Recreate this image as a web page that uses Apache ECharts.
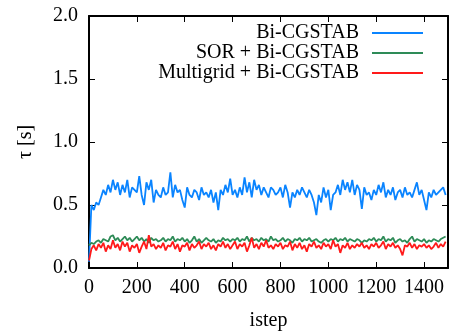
<!DOCTYPE html>
<html>
<head>
<meta charset="utf-8">
<script src="https://cdn.jsdelivr.net/npm/echarts@6/dist/echarts.min.js"></script>
<style>html,body{margin:0;padding:0;background:#fff;}#c{width:451px;height:336px;}</style>
</head>
<body>
<div id="c"></div>
<script>
const STEP = 10;
const seriesNames = ['Bi-CGSTAB', 'SOR + Bi-CGSTAB', 'Multigrid + Bi-CGSTAB'];
const xTicks = [0, 200, 400, 600, 800, 1000, 1200, 1400];
const yTicks = [0.0, 0.5, 1.0, 1.5, 2.0];

const biCgstab = [
  0.05, 0.50, 0.46, 0.52, 0.50, 0.56, 0.62, 0.58, 0.66, 0.60,
  0.70, 0.62, 0.68, 0.58, 0.66, 0.60, 0.70, 0.56, 0.64, 0.62,
  0.60, 0.73, 0.58, 0.50, 0.68, 0.62, 0.70, 0.52, 0.62, 0.58,
  0.56, 0.64, 0.58, 0.60, 0.76, 0.56, 0.66, 0.60, 0.62, 0.54,
  0.48, 0.64, 0.58, 0.56, 0.62, 0.60, 0.54, 0.64, 0.58, 0.60,
  0.56, 0.62, 0.52, 0.60, 0.46, 0.62, 0.58, 0.66, 0.60, 0.71,
  0.58, 0.62, 0.56, 0.64, 0.58, 0.72, 0.60, 0.68, 0.56, 0.70,
  0.62, 0.66, 0.58, 0.64, 0.60, 0.56, 0.64, 0.62, 0.58, 0.60,
  0.64, 0.56, 0.66, 0.60, 0.48, 0.60, 0.56, 0.62, 0.58, 0.64,
  0.60, 0.56, 0.62, 0.58, 0.52, 0.42, 0.58, 0.52, 0.64, 0.56,
  0.62, 0.46, 0.58, 0.60, 0.66, 0.58, 0.70, 0.62, 0.68, 0.60,
  0.70, 0.58, 0.66, 0.62, 0.47, 0.64, 0.58, 0.60, 0.54, 0.62,
  0.58, 0.66, 0.60, 0.68, 0.56, 0.62, 0.58, 0.64, 0.54, 0.60,
  0.62, 0.56, 0.64, 0.58, 0.60, 0.56, 0.62, 0.68, 0.58, 0.62,
  0.54, 0.46, 0.60, 0.56, 0.62, 0.58, 0.60, 0.62, 0.64, 0.58
];
const sorBiCgstab = [
  0.18, 0.20, 0.19, 0.21, 0.22, 0.20, 0.23, 0.22, 0.21, 0.25,
  0.26, 0.22, 0.24, 0.21, 0.23, 0.25, 0.22, 0.24, 0.21, 0.23,
  0.25, 0.22, 0.24, 0.21, 0.23, 0.20, 0.24, 0.22, 0.23, 0.21,
  0.22, 0.24, 0.21, 0.23, 0.22, 0.25, 0.21, 0.23, 0.22, 0.24,
  0.21, 0.23, 0.20, 0.22, 0.25, 0.21, 0.23, 0.20, 0.22, 0.24,
  0.22, 0.21, 0.23, 0.20, 0.22, 0.21, 0.24, 0.22, 0.23, 0.21,
  0.23, 0.22, 0.24, 0.21, 0.23, 0.22, 0.25, 0.21, 0.24, 0.22,
  0.23, 0.21, 0.24, 0.22, 0.23, 0.21, 0.25, 0.22, 0.23, 0.21,
  0.22, 0.24, 0.21, 0.23, 0.22, 0.20, 0.23, 0.22, 0.24, 0.21,
  0.23, 0.22, 0.24, 0.21, 0.22, 0.23, 0.21, 0.20, 0.22, 0.23,
  0.21, 0.23, 0.22, 0.24, 0.21, 0.23, 0.22, 0.24, 0.21, 0.23,
  0.22, 0.21, 0.23, 0.22, 0.20, 0.22, 0.21, 0.23, 0.22, 0.24,
  0.21, 0.23, 0.22, 0.25, 0.21, 0.23, 0.22, 0.24, 0.20, 0.22,
  0.23, 0.21, 0.22, 0.20, 0.23, 0.25, 0.21, 0.23, 0.22, 0.21,
  0.23, 0.20, 0.22, 0.21, 0.23, 0.22, 0.21, 0.23, 0.24, 0.25
];
const mgBiCgstab = [
  0.06, 0.15, 0.18, 0.14, 0.19, 0.16, 0.20, 0.13, 0.18, 0.15,
  0.22, 0.16, 0.19, 0.14, 0.21, 0.17, 0.20, 0.13, 0.18, 0.16,
  0.19, 0.12, 0.17, 0.21, 0.15, 0.26, 0.17, 0.19, 0.15, 0.18,
  0.16, 0.20, 0.14, 0.18, 0.17, 0.21, 0.15, 0.19, 0.13, 0.18,
  0.17, 0.20, 0.14, 0.19, 0.16, 0.18, 0.21, 0.15, 0.19, 0.17,
  0.20, 0.15, 0.18, 0.14, 0.19, 0.17, 0.21, 0.16, 0.19, 0.15,
  0.18, 0.21, 0.15, 0.19, 0.17, 0.20, 0.13, 0.18, 0.24, 0.16,
  0.19, 0.15, 0.20, 0.17, 0.22, 0.16, 0.18, 0.15, 0.19, 0.17,
  0.20, 0.15, 0.18, 0.17, 0.21, 0.14, 0.19, 0.16, 0.20, 0.15,
  0.18, 0.13, 0.19, 0.17, 0.21, 0.16, 0.18, 0.15, 0.20, 0.17,
  0.19, 0.15, 0.22, 0.17, 0.19, 0.12, 0.18, 0.16, 0.20, 0.15,
  0.18, 0.16, 0.19, 0.17, 0.20, 0.16, 0.18, 0.15, 0.19, 0.17,
  0.20, 0.16, 0.18, 0.21, 0.15, 0.19, 0.17, 0.20, 0.16, 0.18,
  0.15, 0.10, 0.18, 0.17, 0.20, 0.16, 0.19, 0.15, 0.18, 0.17,
  0.19, 0.16, 0.18, 0.15, 0.17, 0.20, 0.16, 0.19, 0.17, 0.21
];

const colors = ['#0a84ff', '#2e8b57', '#ff1a1a'];
const toPairs = arr => arr.map((v, i) => [i * STEP, v]);
const FONT = 'Liberation Serif';

const chart = echarts.init(document.getElementById('c'));
const axisCommon = {
  axisLine: { show: true, onZero: false, lineStyle: { color: '#000', width: 2 } },
  axisTick: { show: true, inside: true, length: 6, lineStyle: { color: '#000', width: 1 } },
  splitLine: { show: false }
};
chart.setOption({
  animation: false,
  backgroundColor: '#fff',
  grid: { left: 89, right: 3, top: 16, bottom: 68, show: false },
  legend: {
    orient: 'vertical', align: 'right', right: 23, top: 18,
    itemWidth: 51, itemHeight: 2, itemGap: 0, icon: 'rect',
    textStyle: { fontFamily: FONT, fontSize: 20, lineHeight: 20, color: '#000', padding: [0, 8, 0, 0] },
    data: seriesNames
  },
  xAxis: [
    Object.assign({}, axisCommon, {
      type: 'value', min: 0, max: 1500, interval: 200, position: 'bottom',
      name: 'istep', nameLocation: 'middle', nameGap: 43,
      nameTextStyle: { fontFamily: FONT, fontSize: 20, color: '#000' },
      axisLabel: { fontFamily: FONT, fontSize: 20, color: '#000', margin: 10, showMaxLabel: false,
        formatter: v => (xTicks.indexOf(v) >= 0 ? String(v) : '') }
    }),
    Object.assign({}, axisCommon, {
      type: 'value', min: 0, max: 1500, interval: 200, position: 'top',
      axisLabel: { show: false }
    })
  ],
  yAxis: [
    Object.assign({}, axisCommon, {
      type: 'value', min: 0, max: 2, interval: 0.5, position: 'left',
      name: 'τ [s]', nameLocation: 'middle', nameGap: 53, nameRotate: 90,
      nameTextStyle: { fontFamily: FONT, fontSize: 20, color: '#000' },
      axisLabel: { fontFamily: FONT, fontSize: 20, color: '#000', margin: 11,
        formatter: v => v.toFixed(1) }
    }),
    Object.assign({}, axisCommon, {
      type: 'value', min: 0, max: 2, interval: 0.5, position: 'right',
      axisLabel: { show: false }
    })
  ],
  series: [
    { name: seriesNames[0], type: 'line', data: toPairs(biCgstab), symbol: 'none', color: colors[0], lineStyle: { width: 1.8 } },
    { name: seriesNames[1], type: 'line', data: toPairs(sorBiCgstab), symbol: 'none', color: colors[1], lineStyle: { width: 1.8 } },
    { name: seriesNames[2], type: 'line', data: toPairs(mgBiCgstab), symbol: 'none', color: colors[2], lineStyle: { width: 1.8 } }
  ]
});
</script>
</body>
</html>
